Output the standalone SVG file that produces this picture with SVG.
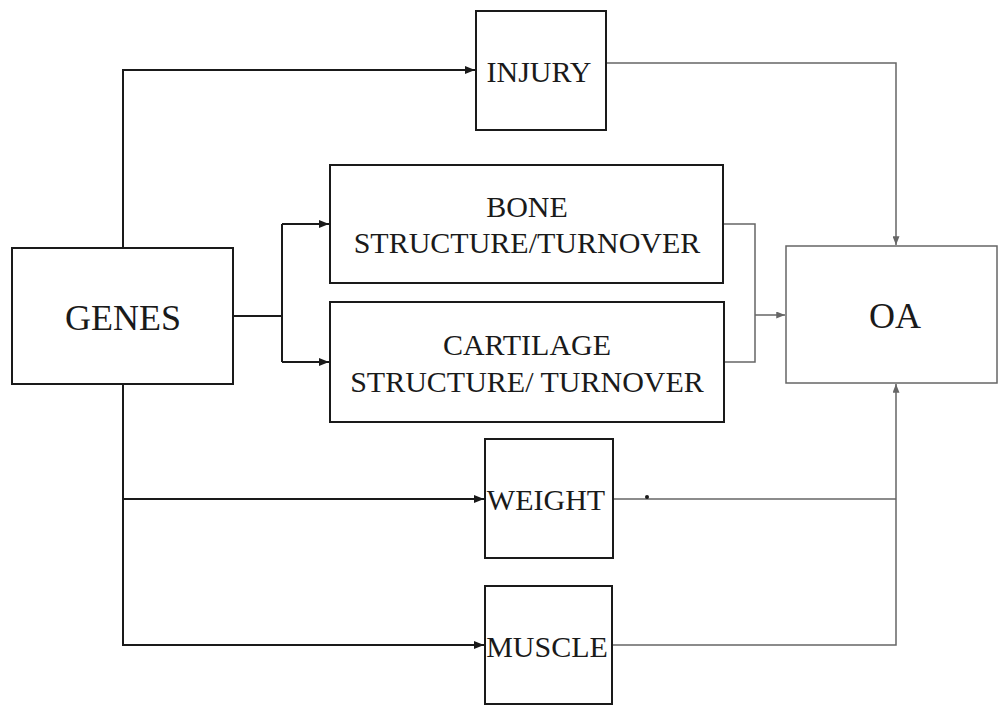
<svg xmlns="http://www.w3.org/2000/svg" width="998" height="706" viewBox="0 0 998 706">
<style>
.box{fill:#fff;stroke:#1a1a1a;stroke-width:2}
.boxg{fill:#fff;stroke:#666;stroke-width:1.5}
text{font-family:'Liberation Serif','Times New Roman','DejaVu Serif',serif;font-size:30px;fill:#1a1a1a;text-anchor:middle}
.big{font-size:36px}
.c{fill:none;stroke:#1a1a1a;stroke-width:2}
.cg{fill:none;stroke:#666;stroke-width:1.5}
</style>
<defs>
<marker id="ab" viewBox="0 0 10 8" refX="10" refY="4" markerWidth="10" markerHeight="8" markerUnits="userSpaceOnUse" orient="auto"><path d="M0,0 L10,4 L0,8 Z" fill="#1a1a1a"/></marker>
<marker id="ag" viewBox="0 0 10 8" refX="10" refY="4" markerWidth="9" markerHeight="7" markerUnits="userSpaceOnUse" orient="auto"><path d="M0,0 L10,4 L0,8 Z" fill="#666"/></marker>
</defs>
<rect width="998" height="706" fill="#fff"/>
<g id="connectors">
<path class="c" d="M123,248 V70 H475" marker-end="url(#ab)"/>
<path class="c" d="M233,316 H282"/>
<path class="c" d="M282,224 V362"/>
<path class="c" d="M282,224 H329" marker-end="url(#ab)"/>
<path class="c" d="M282,362 H329" marker-end="url(#ab)"/>
<path class="c" d="M123,384 V645 H484" marker-end="url(#ab)"/>
<path class="c" d="M123,499 H484" marker-end="url(#ab)"/>
<path class="cg" d="M606,63 H896 V245" marker-end="url(#ag)"/>
<path class="cg" d="M723,224 H755 V362 H724"/>
<path class="cg" d="M755,315 H785" marker-end="url(#ag)"/>
<path class="cg" d="M613,499 H896"/>
<path class="cg" d="M612,645 H896 V384" marker-end="url(#ag)"/>
<circle cx="647" cy="497" r="2" fill="#1a1a1a"/>
</g>
<g id="genes"><rect class="box" x="12" y="248" width="221" height="136"/><text class="big" x="123" y="330">GENES</text></g>
<g id="injury"><rect class="box" x="476" y="11" width="130" height="119"/><text x="539" y="82">INJURY</text></g>
<g id="bone"><rect class="box" x="330" y="165" width="393" height="118"/><text x="527" y="217">BONE</text><text x="527" y="253">STRUCTURE/TURNOVER</text></g>
<g id="cartilage"><rect class="box" x="330" y="302" width="394" height="120"/><text x="527" y="355">CARTILAGE</text><text x="527" y="392">STRUCTURE/ TURNOVER</text></g>
<g id="oa"><rect class="boxg" x="786" y="246" width="211" height="137"/><text class="big" x="895" y="328">OA</text></g>
<g id="weight"><rect class="box" x="485" y="439" width="128" height="119"/><text x="546" y="510">WEIGHT</text></g>
<g id="muscle"><rect class="box" x="485" y="586" width="127" height="118"/><text x="547" y="657">MUSCLE</text></g>
</svg>
